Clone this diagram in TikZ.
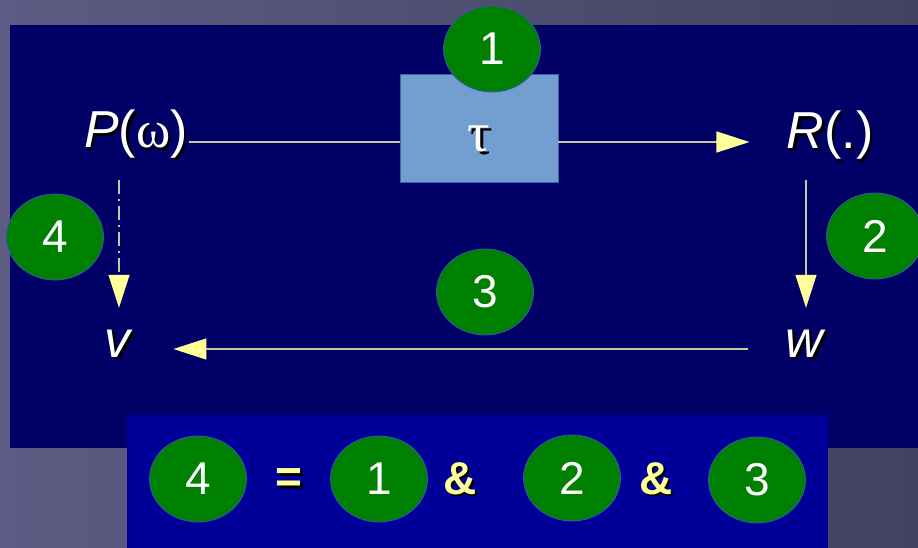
\documentclass[tikz,border=0pt]{standalone}
\usepackage{fontspec}
\setmainfont{Liberation Sans}
\newfontfamily\grk{Liberation Serif}
\usetikzlibrary{shapes.geometric,arrows.meta}
\definecolor{bgA}{RGB}{92,92,132}
\definecolor{bgB}{RGB}{66,66,96}
\definecolor{navy}{RGB}{0,0,102}
\definecolor{bluebox}{RGB}{0,0,153}
\definecolor{taufill}{RGB}{114,159,207}
\definecolor{tauedge}{RGB}{60,100,170}
\definecolor{grn}{RGB}{0,128,0}
\definecolor{grnedge}{RGB}{50,90,170}
\definecolor{lineC}{RGB}{200,200,165}
\definecolor{yel}{RGB}{255,255,153}
\newcommand\shd[1]{\leavevmode\rlap{\kern2.5pt\raisebox{-2.5pt}{\color{black}#1}}#1}
\begin{document}
\begin{tikzpicture}[x=1pt,y=-1pt,
  num/.style={ellipse, fill=grn, draw=grnedge, line width=0.8pt, minimum width=97pt, minimum height=86pt, inner sep=0pt, text=white, font=\fontsize{46}{46}\selectfont},
  lbl/.style={text=white, font=\fontsize{52}{52}\selectfont, inner sep=1pt},
  smalllbl/.style={lbl, text height=26pt, text depth=10pt},
  sym/.style={text=yel, font=\fontsize{46}{46}\selectfont\bfseries, inner sep=0pt},
  taubox/.style={rectangle, fill=taufill, draw=tauedge, line width=0.8pt, minimum width=158pt, minimum height=108pt, inner sep=0pt, text=white, font=\fontsize{56}{56}\selectfont},
  conn/.style={draw=lineC, line width=1.3pt},
  tipped/.style={-{Triangle[length=33pt,width=21pt,color=yel]}},
  dashdot/.style={dash pattern=on 14pt off 5pt on 2pt off 5pt}]
\useasboundingbox (0,0) rectangle (918,548);
\shade[left color=bgA, right color=bgB] (0,0) rectangle (918,548);
\fill[navy] (10,25) rectangle (918,448);
\fill[bluebox] (127,415) rectangle (828,548);
% labels
\node[lbl, anchor=base] (P) at (136,148) {\shd{\textit{P}({\grk ω})}};
\node[lbl, anchor=base] (R) at (830,149) {\shd{\textit{R}(.)}};
\node[smalllbl, anchor=base] (v) at (119,357) {\shd{\textit{v}}};
\node[smalllbl, anchor=base] (w) at (806,357) {\shd{\textit{w}}};
\node[taubox] (tau) at (479,128) {\smash{\raisebox{-24pt}{\shd{\grk τ}}}};
\coordinate (tauin) at ([yshift=-14pt]tau.west);
\coordinate (tauout) at ([yshift=-14pt]tau.east);
% connectors
\draw[conn] (P.east |- tauin) -- (tauin);
\draw[conn, tipped, shorten >=36pt] (tauout) -- (R.west |- tauout);
\draw[conn, tipped, shorten <=17pt, shorten >=22pt] (w.north |- R.south) -- (w.north);
\draw[conn, dashdot, tipped, shorten <=18pt, shorten >=22pt] (v.north |- P.south) -- (v.north);
\draw[conn, tipped, shorten <=37pt, shorten >=39pt] (w.west) -- (v.east |- w.west);
% numbered ellipses
\node[num] (n1) at (492,49) {1};
\node[num] (n2) at (875,236) {2};
\node[num] (n3) at (485,292) {3};
\node[num] (n4) at (55,237) {4};
% equation
\node[num] (b4) at (198,479) {4};
\node[sym] (eq) at (289,482) {\shd{=}};
\node[num] (b1) at (379,479) {1};
\node[sym] (a1) at (460,480) {\shd{\&}};
\node[num] (b2) at (572,478) {2};
\node[sym] (a2) at (656,480) {\shd{\&}};
\node[num] (b3) at (757,480) {3};
\end{tikzpicture}
\end{document}
